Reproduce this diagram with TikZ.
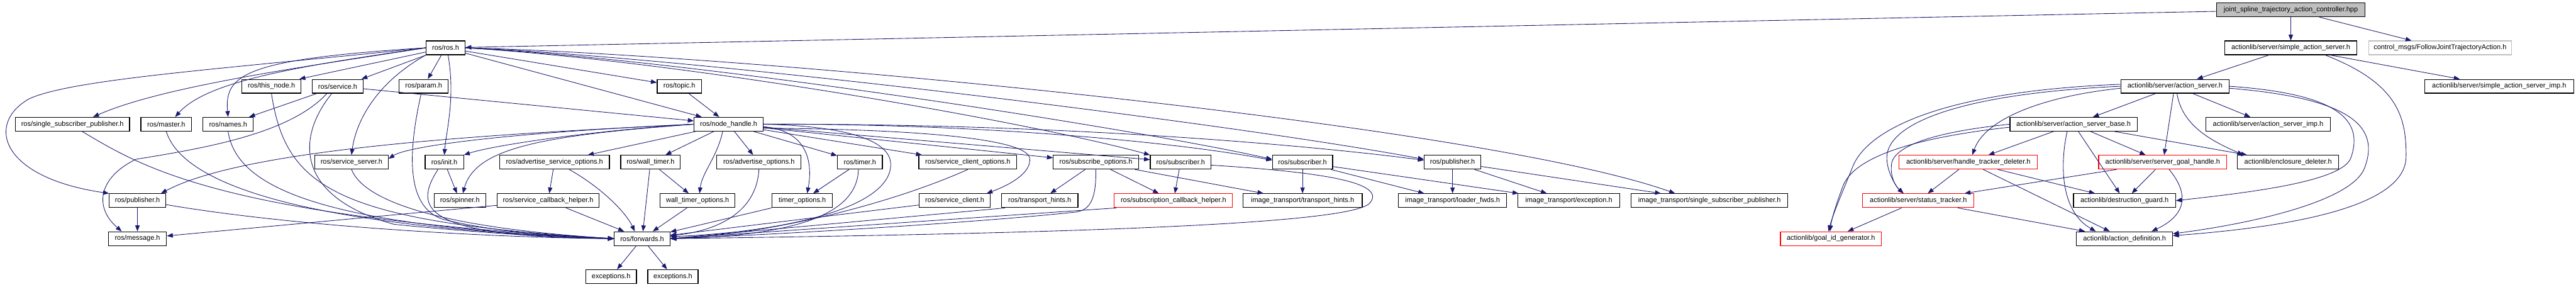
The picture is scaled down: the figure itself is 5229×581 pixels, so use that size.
\documentclass[tikz,border=0pt]{standalone}
\usepackage{fontspec}
\setmainfont{Liberation Sans}
\usetikzlibrary{arrows.meta,calc}
\definecolor{edgec}{HTML}{191970}
\definecolor{lgray}{HTML}{BFBFBF}
\begin{document}
\begin{tikzpicture}[x=1pt,y=-1pt,
  nb/.style={draw=black, fill=white, line width=1.5pt, minimum height=28pt, inner xsep=3pt, inner ysep=0pt, font=\fontsize{14pt}{16pt}\selectfont},
  rn/.style={nb, draw=red},
  gn/.style={nb, draw=lgray},
  rootn/.style={nb, fill=lgray},
  dep/.style={draw=edgec, line width=1.1pt, -{Triangle[length=12pt,width=9pt]}}]
\useasboundingbox (0,0) rectangle (5229,581);
\fill[white] (0,0) rectangle (5229,581);
% row 0
\node[rootn, minimum width=301pt] (root) at (4650,20) {joint\_spline\_trajectory\_action\_controller.hpp};
% row 1
\node[nb, minimum width=79pt] (ros) at (904.5,97) {ros/ros.h};
\node[nb, minimum width=269pt] (sas) at (4650,97) {actionlib/server/simple\_action\_server.h};
\node[gn, minimum width=290pt] (cm) at (4953,97) {control\_msgs/FollowJointTrajectoryAction.h};
% row 2
\node[nb, minimum width=120pt] (thisnode) at (551,175) {ros/this\_node.h};
\node[nb, minimum width=103pt] (service) at (685.5,175) {ros/service.h};
\node[nb, minimum width=100pt] (param) at (860,175) {ros/param.h};
\node[nb, minimum width=90pt] (topic) at (1379,175) {ros/topic.h};
\node[nb, minimum width=220pt] (as) at (4415,175) {actionlib/server/action\_server.h};
\node[nb, minimum width=302pt] (sasimp) at (5073,175) {actionlib/server/simple\_action\_server\_imp.h};
% row 3
\node[nb, minimum width=232pt] (ssp) at (147,252) {ros/single\_subscriber\_publisher.h};
\node[nb, minimum width=103pt] (master) at (337.5,252) {ros/master.h};
\node[nb, minimum width=102pt] (names) at (463,252) {ros/names.h};
\node[nb, minimum width=140pt] (nh) at (1479,252) {ros/node\_handle.h};
\node[nb, minimum width=258pt] (asb) at (4209,252) {actionlib/server/action\_server\_base.h};
\node[nb, minimum width=252pt] (asimp) at (4604,252) {actionlib/server/action\_server\_imp.h};
% row 4
\node[nb, minimum width=149pt] (ss) at (713.5,329) {ros/service\_server.h};
\node[nb, minimum width=78pt] (init) at (902,329) {ros/init.h};
\node[nb, minimum width=223pt] (aso) at (1125.5,329) {ros/advertise\_service\_options.h};
\node[nb, minimum width=121pt] (wt) at (1320.5,329) {ros/wall\_timer.h};
\node[nb, minimum width=171pt] (ao) at (1540.5,329) {ros/advertise\_options.h};
\node[nb, minimum width=91pt] (timer) at (1745.5,329) {ros/timer.h};
\node[nb, minimum width=199pt] (sco) at (1964.5,329) {ros/service\_client\_options.h};
\node[nb, minimum width=173pt] (so) at (2224.5,329) {ros/subscribe\_options.h};
\node[nb, minimum width=123pt] (subA) at (2396.5,329) {ros/subscriber.h};
\node[nb, minimum width=122pt] (subB) at (2644,329) {ros/subscriber.h};
\node[nb, minimum width=115pt] (pubB) at (2948.5,329) {ros/publisher.h};
\node[rn, minimum width=281pt] (htd) at (3995.5,329) {actionlib/server/handle\_tracker\_deleter.h};
\node[rn, minimum width=260pt] (sgh) at (4390,329) {actionlib/server/server\_goal\_handle.h};
\node[nb, minimum width=205pt] (ed) at (4644.5,329) {actionlib/enclosure\_deleter.h};
% row 5
\node[nb, minimum width=114pt] (pubA) at (279,407) {ros/publisher.h};
\node[nb, minimum width=105pt] (spinner) at (933.5,407) {ros/spinner.h};
\node[nb, minimum width=207pt] (sch) at (1112.5,407) {ros/service\_callback\_helper.h};
\node[nb, minimum width=152pt] (wto) at (1416,407) {wall\_timer\_options.h};
\node[nb, minimum width=123pt] (tmo) at (1628.5,407) {timer\_options.h};
\node[nb, minimum width=144pt] (sc) at (1938,407) {ros/service\_client.h};
\node[nb, minimum width=155pt] (th) at (2110.5,407) {ros/transport\_hints.h};
\node[rn, minimum width=240pt] (subcb) at (2382,407) {ros/subscription\_callback\_helper.h};
\node[nb, minimum width=242pt] (itth) at (2644,407) {image\_transport/transport\_hints.h};
\node[nb, minimum width=219pt] (itlf) at (2948.5,407) {image\_transport/loader\_fwds.h};
\node[nb, minimum width=207pt] (itex) at (3184.5,407) {image\_transport/exception.h};
\node[nb, minimum width=318pt] (itssp) at (3470,407) {image\_transport/single\_subscriber\_publisher.h};
\node[rn, minimum width=226pt] (st) at (3894,407) {actionlib/server/status\_tracker.h};
\node[nb, minimum width=207pt] (dg) at (4312.5,407) {actionlib/destruction\_guard.h};
% row 6
\node[nb, minimum width=118pt] (msg) at (279,484) {ros/message.h};
\node[nb, minimum width=113pt] (fwd) at (1303.5,484) {ros/forwards.h};
\node[rn, minimum width=205pt] (gid) at (3716.5,484) {actionlib/goal\_id\_generator.h};
\node[nb, minimum width=195pt] (ad) at (4312.5,484) {actionlib/action\_definition.h};
% row 7
\node[nb, minimum width=103pt] (excA) at (1240.5,561) {exceptions.h};
\node[nb, minimum width=102pt] (excB) at (1366,561) {exceptions.h};

% ---------- edges: root
\draw[dep] (root) -- (ros);
\draw[dep] (root) -- (sas);
\draw[dep] (root) -- (cm);
% simple_action_server
\draw[dep] (sas) -- (as);
\draw[dep] (sas) -- (sasimp);
\draw[dep] ($(sas.south)+(70,0)$) .. controls (4870,170) and (4885,240) .. (4884,320) .. controls (4880,420) and (4650,460) .. ($(ad.east)+(0,-6)$);
% action_server
\draw[dep] (as) -- (asb);
\draw[dep] (as) -- (asimp);
\draw[dep] ($(as.south)+(-3,0)$) -- ($(sgh.north)+(3,0)$);
\draw[dep] ($(as.south)+(4,0)$) .. controls (4430,260) and (4500,290) .. ($(ed.north west)+(12,0)$);
\draw[dep] (as.east) .. controls (4740,190) and (4800,240) .. (4772,320) .. controls (4755,370) and (4550,392) .. (dg.east);
\draw[dep] ($(as.east)+(0,4)$) .. controls (4780,200) and (4830,260) .. (4800,340) .. controls (4775,410) and (4560,455) .. ($(ad.east)+(0,-10)$);
\draw[dep] ($(as.west)+(0,4)$) .. controls (4150,195) and (4030,240) .. ($(htd.north)+(8,0)$);
\draw[dep] (as.west) .. controls (3980,190) and (3830,250) .. (3830,320) .. controls (3830,350) and (3850,380) .. ($(st.north)+(-30,0)$);
\draw[dep] ($(as.west)+(0,-4)$) .. controls (3950,185) and (3790,260) .. (3760,340) .. controls (3740,390) and (3722,430) .. ($(gid.north)+(-5,0)$);
% action_server_base
\draw[dep] (asb) -- (htd);
\draw[dep] (asb) -- (sgh);
\draw[dep] (asb) -- (ed);
\draw[dep] (asb) -- (dg);
\draw[dep] ($(asb.south)+(-13,0)$) .. controls (4180,340) and (4185,430) .. ($(ad.north west)+(40,0)$);
\draw[dep] (asb.west) .. controls (3950,265) and (3850,290) .. (3840,330) .. controls (3835,360) and (3850,380) .. ($(st.north)+(-30,0)$);
\draw[dep] ($(asb.west)+(0,6)$) .. controls (3880,280) and (3760,320) .. (3740,380) .. controls (3725,420) and (3718,445) .. ($(gid.north)+(-2,0)$);
% handle_tracker_deleter, server_goal_handle, status_tracker
\draw[dep] (htd) -- (st);
\draw[dep] (htd) -- (dg);
\draw[dep] (htd) -- (ad);
\draw[dep] (sgh) -- (st);
\draw[dep] (sgh) -- (dg);
\draw[dep] ($(sgh.south)+(13,0)$) .. controls (4450,400) and (4430,440) .. ($(ad.north)+(55,0)$);
\draw[dep] (st) -- (gid);
\draw[dep] (st) -- (ad);

% ---------- ros/ros.h
\draw[dep] (ros.west) .. controls (450,140) and (150,160) .. (60,200) .. controls (-30,250) and (0,360) .. (pubA.north west);
\draw[dep] (ros.west) .. controls (620,135) and (330,175) .. ($(ssp.north)+(42,0)$);
\draw[dep] (ros.west) .. controls (600,135) and (420,165) .. ($(master.north)+(18,0)$);
\draw[dep] (ros.west) .. controls (500,120) and (455,150) .. (names.north);
\draw[dep] (ros) -- ($(thisnode.north east)+(-4,0)$);
\draw[dep] (ros) -- ($(service.north east)+(-4,0)$);
\draw[dep] (ros) -- (param);
\draw[dep] (ros.south west) .. controls (760,170) and (722,250) .. (ss.north);
\draw[dep] ($(ros.south)+(5,0)$) .. controls (925,200) and (905,270) .. (init.north);
\draw[dep] (ros) -- (topic);
\draw[dep] (ros) -- (nh);
\draw[dep] (ros.east) .. controls (1400,125) and (2100,250) .. (subA.north west);
\draw[dep] (ros.east) .. controls (1400,120) and (2300,260) .. ($(subB.west)+(0,-6)$);
\draw[dep] (ros.east) .. controls (1400,115) and (2500,250) .. ($(pubB.west)+(0,-6)$);
\draw[dep] (ros.east) .. controls (1500,110) and (3000,250) .. ($(itssp.north west)+(90,0)$);
% ros/service.h
\draw[dep] (service) -- (nh);
\draw[dep] (service) -- (names);
\draw[dep] ($(service.south)+(-22,0)$) .. controls (590,270) and (420,300) .. (276,323) .. controls (200,360) and (190,420) .. ($(msg.north)+(-32,0)$);
\draw[dep] ($(service.south)+(-12,0)$) .. controls (600,280) and (600,400) .. (800,455) .. controls (1000,475) and (1150,482) .. (fwd.west);
\draw[dep] (topic) -- (nh);
% into forwards from the left
\draw[dep] (thisnode.south) .. controls (580,380) and (680,450) .. (fwd.west);
\draw[dep] (master.south) .. controls (370,370) and (600,460) .. (fwd.west);
\draw[dep] (names.south) .. controls (480,380) and (650,460) .. (fwd.west);
\draw[dep] ($(ssp.south)+(20,0)$) .. controls (290,340) and (450,440) .. (fwd.west);
\draw[dep] ($(param.south)+(-5,0)$) .. controls (830,300) and (820,420) .. (900,445) .. controls (1000,470) and (1150,482) .. (fwd.west);
\draw[dep] (ss.south) .. controls (740,410) and (900,462) .. (fwd.west);
\draw[dep] ($(init.south)+(-13,0)$) .. controls (840,420) and (850,480) .. (fwd.west);
\draw[dep] (init) -- (spinner);
\draw[dep] (pubA) -- (msg);
\draw[dep] ($(pubA.east)+(0,8)$) .. controls (600,460) and (1000,482) .. (fwd.west);
% ros/node_handle.h
\draw[dep] (nh.west) .. controls (1000,272) and (500,300) .. ($(pubA.north east)+(-10,0)$);
\draw[dep] (nh.west) .. controls (1050,268) and (830,295) .. ($(ss.east)+(0,-7)$);
\draw[dep] (nh.west) .. controls (1200,265) and (1000,295) .. (init.north east);
\draw[dep] (nh.west) .. controls (1100,275) and (965,300) .. ($(spinner.north)+(6,0)$);
\draw[dep] (nh) -- (aso);
\draw[dep] (nh) -- (wt);
\draw[dep] ($(nh.south)+(-12,0)$) .. controls (1455,320) and (1425,350) .. ($(wto.north)+(4,0)$);
\draw[dep] (nh) -- (ao);
\draw[dep] (nh) -- (timer);
\draw[dep] ($(nh.east)+(0,5)$) .. controls (1640,265) and (1650,330) .. ($(tmo.north)+(10,0)$);
\draw[dep] (nh) -- (sco);
\draw[dep] (nh) -- (so);
\draw[dep] (nh) -- (subA);
\draw[dep] (nh.east) .. controls (2000,250) and (2400,290) .. ($(subB.west)+(0,-4)$);
\draw[dep] (nh.east) .. controls (2200,250) and (2700,300) .. ($(pubB.west)+(0,-4)$);
\draw[dep] ($(nh.east)+(0,8)$) .. controls (1850,262) and (2080,280) .. (2090,320) .. controls (2095,350) and (2050,375) .. ($(sc.north east)+(-8,0)$);
\draw[dep] (nh.east) .. controls (1700,255) and (1810,280) .. (1808,335) .. controls (1806,420) and (1600,470) .. ($(fwd.east)+(0,-4)$);
% option / helper headers
\draw[dep] (aso) -- (sch);
\draw[dep] ($(aso.south)+(30,0)$) .. controls (1220,380) and (1270,430) .. ($(fwd.north)+(-15,0)$);
\draw[dep] (sch) -- (msg);
\draw[dep] (sch) -- (fwd);
\draw[dep] (wt) -- (wto);
\draw[dep] (wt) -- (fwd);
\draw[dep] (wto) -- (fwd);
\draw[dep] (ao.south) .. controls (1535,440) and (1440,470) .. ($(fwd.east)+(0,-6)$);
\draw[dep] (timer) -- (tmo);
\draw[dep] ($(timer.south)+(-3,0)$) .. controls (1740,440) and (1600,478) .. (fwd.east);
\draw[dep] (tmo) -- (fwd);
\draw[dep] (sco.south) .. controls (1840,400) and (1600,472) .. (fwd.east);
\draw[dep] (sc) -- (fwd);
\draw[dep] ($(th.south west)+(8,0)$) -- (fwd.east);
\draw[dep] (so) -- (th);
\draw[dep] (so) -- (subcb);
\draw[dep] (so.south) .. controls (2225,400) and (2215,425) .. (2185,430) .. controls (2000,450) and (1600,475) .. (fwd.east);
\draw[dep] (so) -- (itth);
\draw[dep] ($(subcb.south west)+(5,0)$) -- (fwd.east);
\draw[dep] (subA) -- (subcb);
\draw[dep] ($(subA.east)+(0,6)$) .. controls (2700,350) and (2810,372) .. (2782,410) .. controls (2760,450) and (2300,472) .. (fwd.east);
\draw[dep] (subB) -- (itth);
\draw[dep] (subB) -- (itlf);
\draw[dep] (subB) -- (itex);
\draw[dep] (pubB) -- (itlf);
\draw[dep] (pubB) -- (itex);
\draw[dep] (pubB) -- (itssp);
\draw[dep] (fwd) -- (excA);
\draw[dep] (fwd) -- (excB);
\end{tikzpicture}
\end{document}
